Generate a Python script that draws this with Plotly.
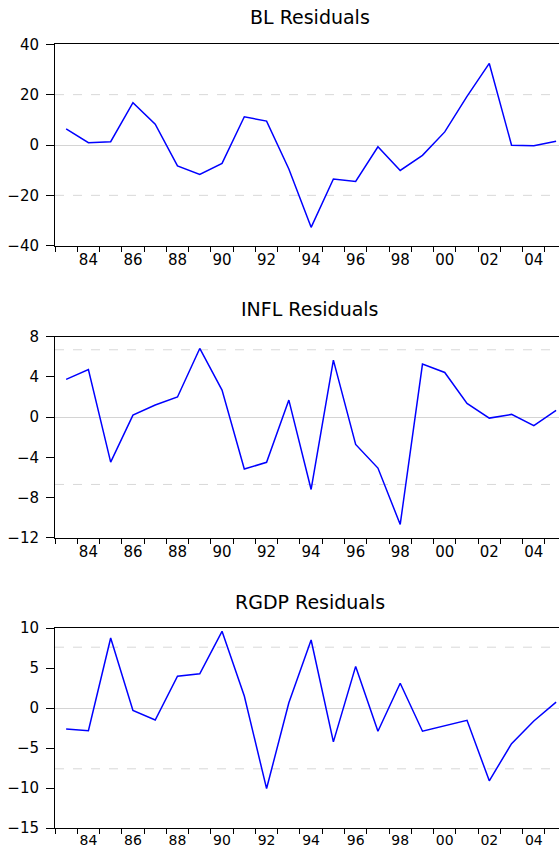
import plotly.graph_objects as go

years = list(range(1983, 2006))

bl_resid = [6.4, 0.9, 1.3, 16.8, 8.3, -8.3, -11.7, -7.3, 11.2, 9.5, -9.5, -32.7,
            -13.5, -14.5, -0.7, -10.1, -4.1, 5.2, 19.3, 32.4, -0.1, -0.3, 1.5]
infl_resid = [3.75, 4.74, -4.48, 0.2, 1.2, 2.0, 6.83, 2.69, -5.17, -4.5, 1.69, -7.2,
              5.67, -2.72, -5.07, -10.68, 5.27, 4.44, 1.36, -0.1, 0.27, -0.86, 0.66]
rgdp_resid = [-2.62, -2.83, 8.75, -0.3, -1.5, 3.98, 4.27, 9.58, 1.49, -10.07, 0.66, 8.5,
              -4.23, 5.2, -2.9, 3.1, -2.9, -2.2, -1.54, -9.1, -4.45, -1.63, 0.74]

titles = ["BL Residuals", "INFL Residuals", "RGDP Residuals"]
bands = [20, 6.7, 7.6]
y_ranges = [[-40, 40], [-12, 8], [-15, 10]]
y_dticks = [20, 4, 5]

x_label_years = list(range(1984, 2005, 2))
x_label_text = [str(y)[2:] for y in x_label_years]

series = [bl_resid, infl_resid, rgdp_resid]

W, H = 559, 850
# panel pixel extents (top, bottom)
panels_px = [(44.3, 245.7), (336.7, 537.7), (628.0, 828.0)]
title_px = [16.7, 308.7, 601.7]
x_label_standoff = [0, 0, -1]
x_font_size = [15, 15, 14]

FONT = "DejaVu Sans"
fig = go.Figure()

for i, vals in enumerate(series):
    n = i + 1
    xa = "x" if n == 1 else f"x{n}"
    ya = "y" if n == 1 else f"y{n}"
    fig.add_trace(go.Scatter(
        x=[y + 0.5 for y in years], y=vals, mode="lines",
        line=dict(color="#0000FF", width=1.5),
        xaxis=xa, yaxis=ya, showlegend=False, hoverinfo="skip"))
    top, bot = panels_px[i]
    dom = [1 - bot / H, 1 - top / H]
    xkey = "xaxis" if n == 1 else f"xaxis{n}"
    ykey = "yaxis" if n == 1 else f"yaxis{n}"
    fig.update_layout(**{
        xkey: dict(
            domain=[0, 1], anchor=ya, range=[1983, 2005.63], automargin=False,
            showline=True, linecolor="black", linewidth=1, mirror=True,
            ticks="", tickvals=[y + 0.5 for y in x_label_years], ticktext=x_label_text,
            showgrid=False, zeroline=False,
            tickfont=dict(family=FONT, size=x_font_size[i], color="black"),
            ticklabelstandoff=x_label_standoff[i],
            minor=dict(tickvals=years, ticks="outside", ticklen=5,
                       tickcolor="black", tickwidth=1, showgrid=False),
        ),
        ykey: dict(
            domain=dom, anchor=xa, range=y_ranges[i], automargin=False,
            dtick=y_dticks[i], tick0=0,
            showline=True, linecolor="black", linewidth=1, mirror=False,
            ticks="outside", ticklen=8, tickcolor="black", tickwidth=1,
            showgrid=False, zeroline=True, zerolinecolor="#d4d4d4", zerolinewidth=1,
            tickfont=dict(family=FONT, size=15, color="black"),
            ticklabelstandoff=4,
        ),
    })
    for b in (bands[i], -bands[i]):
        fig.add_shape(type="line", xref=f"{xa} domain", yref=ya,
                      x0=0, x1=1, y0=b, y1=b, layer="below",
                      line=dict(color="#d8d8d8", width=1, dash="dash"))
    fig.add_annotation(text=titles[i], xref="paper", yref="paper",
                       x=0.506, y=1 - title_px[i] / H, xanchor="center", yanchor="middle",
                       showarrow=False, font=dict(family=FONT, size=19, color="black"))

fig.update_layout(
    width=W, height=H,
    margin=dict(l=55, r=0, t=0, b=0, autoexpand=False),
    paper_bgcolor="white", plot_bgcolor="white",
)

fig.write_html("out.html", config={"displayModeBar": False},
               post_script="document.body.style.margin='0';document.body.style.overflow='hidden';")
